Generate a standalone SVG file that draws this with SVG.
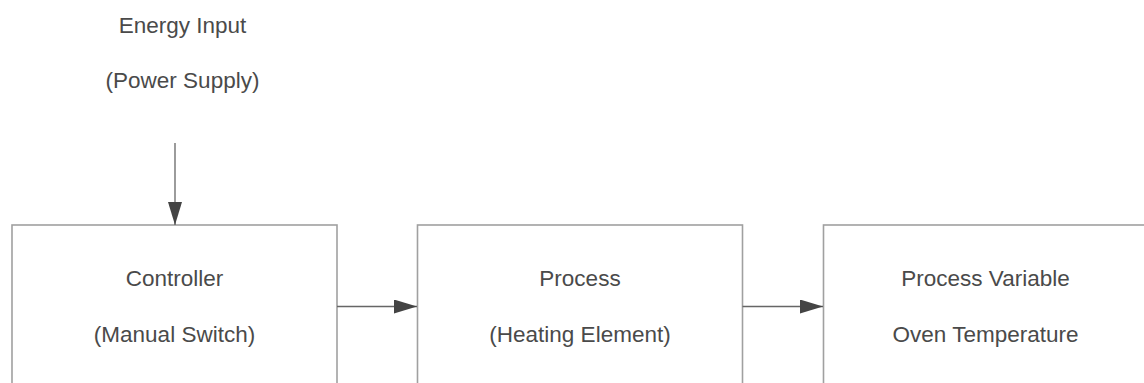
<svg xmlns="http://www.w3.org/2000/svg" width="1144" height="383" viewBox="0 0 1144 383">
<style>
.box{fill:#fff;stroke:#a0a0a0;stroke-width:1.6}
.lbl{font-family:"Liberation Sans",Arial,sans-serif;font-size:22.5px;fill:#4a4a4a;text-anchor:middle}
.conn{stroke:#666;stroke-width:1.3;fill:none}
</style>
<defs>
<marker id="arr" markerUnits="userSpaceOnUse" markerWidth="24" markerHeight="16" refX="23" refY="7" orient="auto">
<path d="M0,0 L23,7 L0,14 Z" fill="#444"/>
</marker>
</defs>
<rect width="1144" height="383" fill="#fff"/>
<g id="energy">
<text class="lbl" x="182.5" y="33">Energy Input</text>
<text class="lbl" x="182.5" y="88">(Power Supply)</text>
</g>
<g id="controller">
<rect class="box" x="12" y="225" width="325" height="180"/>
<text class="lbl" x="174.5" y="286">Controller</text>
<text class="lbl" x="174.5" y="341.5">(Manual Switch)</text>
</g>
<g id="process">
<rect class="box" x="417.5" y="225" width="325" height="180"/>
<text class="lbl" x="580" y="286">Process</text>
<text class="lbl" x="580" y="341.5">(Heating Element)</text>
</g>
<g id="variable">
<rect class="box" x="823.5" y="225" width="325" height="180"/>
<text class="lbl" x="985.5" y="286">Process Variable</text>
<text class="lbl" x="985.5" y="341.5">Oven Temperature</text>
</g>
<g id="connectors">
<line class="conn" x1="175" y1="143" x2="175" y2="225" marker-end="url(#arr)"/>
<line class="conn" x1="337" y1="306.5" x2="417" y2="306.5" marker-end="url(#arr)"/>
<line class="conn" x1="742.5" y1="306.5" x2="823" y2="306.5" marker-end="url(#arr)"/>
</g>
</svg>
